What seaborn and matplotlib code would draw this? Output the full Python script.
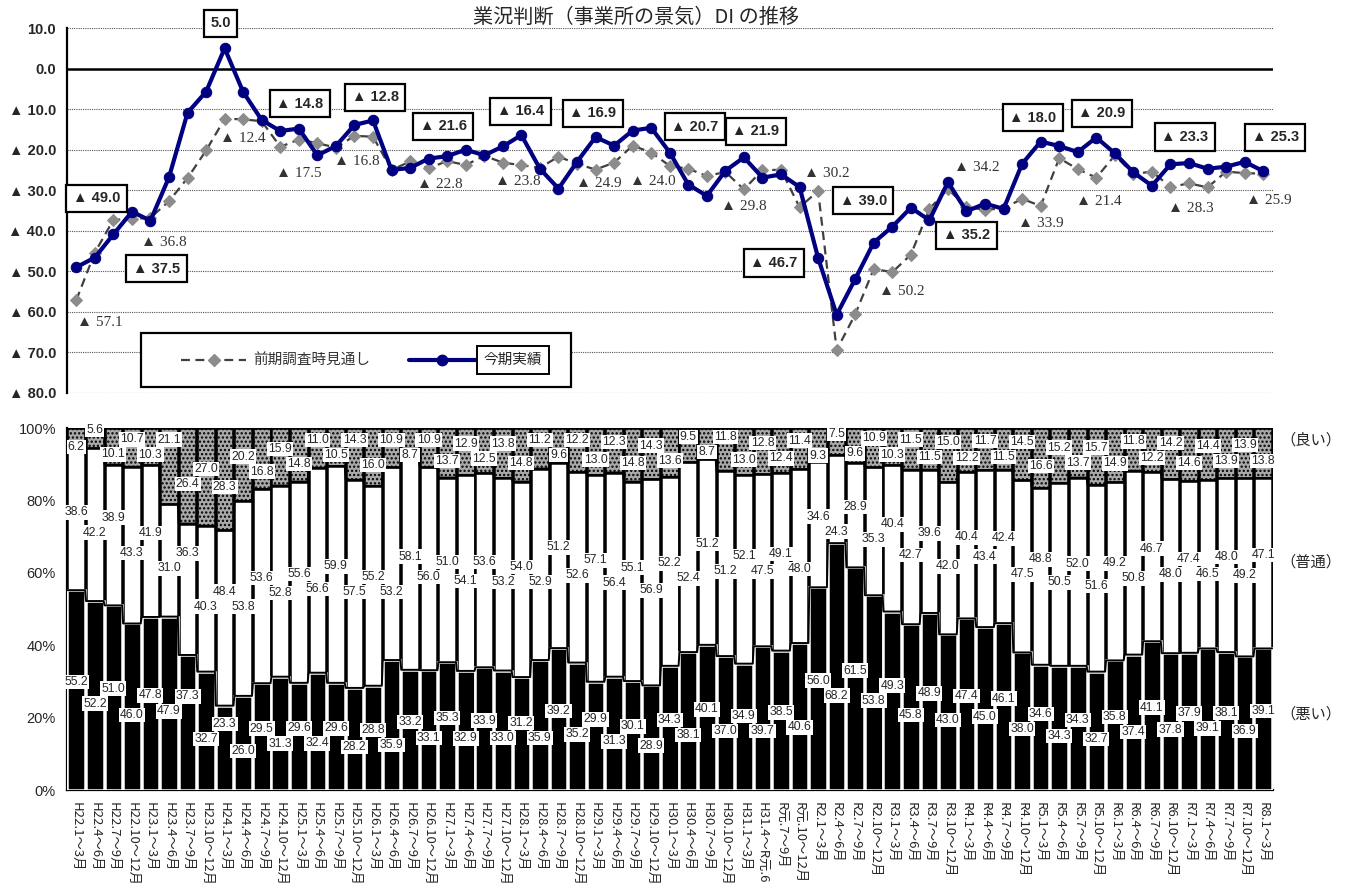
import matplotlib
matplotlib.use("Agg")
import matplotlib.pyplot as plt
import numpy as np
import pandas as pd
import seaborn as sns
from matplotlib.patches import Rectangle
from matplotlib.lines import Line2D

# ---- data -------------------------------------------------------------
periods = [
    "H22.1～3月", "H22.4～6月", "H22.7～9月", "H22.10～12月",
    "H23.1～3月", "H23.4～6月", "H23.7～9月", "H23.10～12月",
    "H24.1～3月", "H24.4～6月", "H24.7～9月", "H24.10～12月",
    "H25.1～3月", "H25.4～6月", "H25.7～9月", "H25.10～12月",
    "H26.1～3月", "H26.4～6月", "H26.7～9月", "H26.10～12月",
    "H27.1～3月", "H27.4～6月", "H27.7～9月", "H27.10～12月",
    "H28.1～3月", "H28.4～6月", "H28.7～9月", "H28.10～12月",
    "H29.1～3月", "H29.4～6月", "H29.7～9月", "H29.10～12月",
    "H30.1～3月", "H30.4～6月", "H30.7～9月", "H30.10～12月",
    "H31.1～3月", "H31.4～R元.6", "R元.7～9月", "R元.10～12月",
    "R2.1～3月", "R2.4～6月", "R2.7～9月", "R2.10～12月",
    "R3.1～3月", "R3.4～6月", "R3.7～9月", "R3.10～12月",
    "R4.1～3月", "R4.4～6月", "R4.7～9月", "R4.10～12月",
    "R5.1～3月", "R5.4～6月", "R5.7～9月", "R5.10～12月",
    "R6.1～3月", "R6.4～6月", "R6.7～9月", "R6.10～12月",
    "R7.1～3月", "R7.4～6月", "R7.7～9月", "R7.10～12月",
    "R8.1～3月",
]

# 今期実績 DI
actual_di = [
    -49.0, -46.6, -40.9, -35.3, -37.5, -26.8, -10.9, -5.7, 5.0, -5.8,
    -12.7, -15.4, -14.8, -21.4, -19.1, -13.9, -12.8, -25.0, -24.5, -22.2,
    -21.6, -20.0, -21.4, -19.2, -16.4, -24.7, -29.6, -23.0, -16.9, -19.0,
    -15.3, -14.6, -20.7, -28.6, -31.4, -25.2, -21.9, -26.9, -26.1, -29.2,
    -46.7, -60.7, -51.9, -42.9, -39.0, -34.3, -37.4, -28.0, -35.2, -33.3,
    -34.6, -23.5, -18.0, -19.1, -20.6, -17.0, -20.9, -25.6, -28.9, -23.6,
    -23.3, -24.7, -24.2, -23.0, -25.3,
]

# 前期調査時見通し DI
forecast_di = [
    -57.1, -45.4, -37.3, -37.1, -36.8, -32.7, -27.0, -20.2, -12.4, -12.5,
    -13.0, -19.3, -17.5, -18.4, -19.5, -16.6, -16.8, -25.0, -22.9, -24.6,
    -22.8, -23.8, -21.5, -23.2, -23.8, -24.5, -21.7, -23.5, -24.9, -23.2,
    -19.0, -20.7, -24.0, -24.7, -26.5, -25.5, -29.8, -25.0, -25.0, -34.2,
    -30.2, -69.4, -60.6, -49.4, -50.2, -45.9, -34.6, -29.7, -34.2, -34.8,
    -34.5, -32.1, -33.9, -22.1, -24.8, -26.9, -21.4, -26.0, -25.4, -29.2,
    -28.3, -29.3, -25.4, -25.8, -25.9,
]

# 構成比（％）
bad = [
    55.2, 52.2, 51.0, 46.0, 47.8, 47.9, 37.3, 32.7, 23.3, 26.0,
    29.5, 31.3, 29.6, 32.4, 29.6, 28.2, 28.8, 35.9, 33.2, 33.1,
    35.3, 32.9, 33.9, 33.0, 31.2, 35.9, 39.2, 35.2, 29.9, 31.3,
    30.1, 28.9, 34.3, 38.1, 40.1, 37.0, 34.9, 39.7, 38.5, 40.6,
    56.0, 68.2, 61.5, 53.8, 49.3, 45.8, 48.9, 43.0, 47.4, 45.0,
    46.1, 38.0, 34.6, 34.3, 34.3, 32.7, 35.8, 37.4, 41.1, 37.8,
    37.9, 39.1, 38.1, 36.9, 39.1,
]
normal = [
    38.6, 42.2, 38.9, 43.3, 41.9, 31.0, 36.3, 40.3, 48.4, 53.8,
    53.6, 52.8, 55.6, 56.6, 59.9, 57.5, 55.2, 53.2, 58.1, 56.0,
    51.0, 54.1, 53.6, 53.2, 54.0, 52.9, 51.2, 52.6, 57.1, 56.4,
    55.1, 56.9, 52.2, 52.4, 51.2, 51.2, 52.1, 47.5, 49.1, 48.0,
    34.6, 24.3, 28.9, 35.3, 40.4, 42.7, 39.6, 42.0, 40.4, 43.4,
    42.4, 47.5, 48.8, 50.5, 52.0, 51.6, 49.2, 50.8, 46.7, 48.0,
    47.4, 46.5, 48.0, 49.2, 47.1,
]
good = [
    6.2, 5.6, 10.1, 10.7, 10.3, 21.1, 26.4, 27.0, 28.3, 20.2,
    16.8, 15.9, 14.8, 11.0, 10.5, 14.3, 16.0, 10.9, 8.7, 10.9,
    13.7, 12.9, 12.5, 13.8, 14.8, 11.2, 9.6, 12.2, 13.0, 12.3,
    14.8, 14.3, 13.6, 9.5, 8.7, 11.8, 13.0, 12.8, 12.4, 11.4,
    9.3, 7.5, 9.6, 10.9, 10.3, 11.5, 11.5, 15.0, 12.2, 11.7,
    11.5, 14.5, 16.6, 15.2, 13.7, 15.7, 14.9, 11.8, 12.2, 14.2,
    14.6, 14.4, 13.9, 13.9, 13.8,
]

# every fourth period (1～3月) carries a value label
label_step = 4
# label placement (pixel offsets from the point) for the 今期実績 boxes
actual_label_offsets = [
    (20, 69), (6, -48), (-4, 25), (1, 25), (2, 23), (-4, 30), (-1, 24),
    (-3, 24), (25, 26), (12, 26), (-44, -5), (-29, 26), (0, -24),
    (-8, 24), (-13, 40), (-4, 26), (12, 34),
]
# and for the 前期調査時見通し labels
forecast_label_offsets = [
    (24, -22), (13, -25), (18, -20), (0, -34), (-16, -25), (-7, -23),
    (-4, -16), (3, -14), (-17, -16), (0, -17), (9, 18), (10, -19),
    (10, 40), (0, -17), (-16, -46), (2, -25), (6, -27),
]

# ---- style -------------------------------------------------------------
sns.set_theme(style="white")
plt.rcParams["font.family"] = ["Noto Sans CJK JP", "DejaVu Sans"]
plt.rcParams["hatch.linewidth"] = 1.1
NUM_FONT = ["Liberation Sans", "Noto Sans CJK JP", "DejaVu Sans"]
SERIF_FONT = ["Liberation Serif", "DejaVu Serif"]
NAVY = "#000080"

W, H = 1346, 891
fig = plt.figure(figsize=(W / 100, H / 100), dpi=100)
fig.patch.set_facecolor("white")


def fx(px):
    return px / W


def fy(py):
    return 1 - py / H


ax1 = fig.add_axes([fx(67), fy(393), fx(1272.5) - fx(67), fy(28) - fy(393)])
ax2 = fig.add_axes([fx(67), fy(790), fx(1272.5) - fx(67), fy(428) - fy(790)])

n = len(periods)
df = pd.DataFrame({
    "pos": np.arange(n),
    "period": periods,
    "actual": actual_di,
    "forecast": forecast_di,
    "bad": bad,
    "normal": normal,
    "good": good,
})
df["cum_bad"] = df["bad"]
df["cum_normal"] = df["bad"] + df["normal"]
df["cum_good"] = df["cum_normal"] + df["good"]


def tri(v):
    return f"▲ {abs(v):.1f}" if v < 0 else f"{v:.1f}"


# ---- upper panel: DI lines ---------------------------------------------
for yv in range(10, -90, -10):
    if yv == 0:
        ax1.axhline(0, color="black", lw=1.8, zorder=1)
    else:
        ax1.axhline(yv, color="#555555", lw=0.8, ls=(0, (1, 1)), zorder=1)

sns.lineplot(data=df, x="pos", y="forecast", ax=ax1, color="#404040",
             linewidth=1.6, linestyle=(0, (4, 2.5)), marker="D", markersize=6,
             markerfacecolor="#8c8c8c", markeredgecolor="#8c8c8c", zorder=3)
sns.lineplot(data=df, x="pos", y="actual", ax=ax1, color=NAVY,
             linewidth=3.0, marker="o", markersize=7.5,
             markerfacecolor=NAVY, markeredgecolor=NAVY, zorder=4)

ax1.set_xlim(-0.5, n - 0.5)
ax1.set_ylim(-80, 10)
yt = list(range(10, -90, -10))
ax1.set_yticks(yt)
ax1.set_yticklabels([tri(v) for v in yt], fontfamily=NUM_FONT,
                    fontsize=10.5, fontweight="bold")
ax1.set_xticks([])
ax1.set_xlabel("")
ax1.set_ylabel("")
for s in ("top", "right", "bottom"):
    ax1.spines[s].set_visible(False)
ax1.spines["left"].set_color("black")
ax1.spines["left"].set_linewidth(1.6)
ax1.tick_params(axis="y", length=4, width=1.2, color="black", pad=4,
                direction="out")

for k, i in enumerate(range(0, n, label_step)):
    dx, dy = actual_label_offsets[k]
    ax1.annotate(tri(actual_di[i]), (i, actual_di[i]), xytext=(dx, dy),
                 textcoords="offset pixels", ha="center", va="center",
                 fontsize=10.5, fontweight="bold", fontfamily=NUM_FONT,
                 zorder=6,
                 bbox=dict(boxstyle="square,pad=0.45", fc="white",
                           ec="black", lw=1.6))
    dx, dy = forecast_label_offsets[k]
    ax1.annotate(tri(forecast_di[i]), (i, forecast_di[i]), xytext=(dx, dy),
                 textcoords="offset pixels", ha="center", va="center",
                 fontsize=11, fontfamily=SERIF_FONT, color="#333333",
                 zorder=5)

# legend frame
fig.add_artist(Rectangle((fx(141), fy(387)), fx(571) - fx(141),
                         fy(333) - fy(387), transform=fig.transFigure,
                         fc="white", ec="black", lw=1.6, zorder=5))
fig.add_artist(Line2D([fx(181), fx(246)], [fy(360), fy(360)],
                      transform=fig.transFigure, color="#404040", lw=1.6,
                      ls=(0, (4, 2.5)), zorder=6))
fig.add_artist(Line2D([fx(213.5)], [fy(360)], transform=fig.transFigure,
                      marker="D", ms=6, mfc="#8c8c8c", mec="#8c8c8c",
                      zorder=7))
fig.text(fx(253), fy(360), "前期調査時見通し", ha="left", va="center",
         fontsize=10.5, color="#333333", zorder=7)
fig.add_artist(Line2D([fx(409), fx(476)], [fy(360), fy(360)],
                      transform=fig.transFigure, color=NAVY, lw=3.0,
                      zorder=6))
fig.add_artist(Line2D([fx(442)], [fy(360)], transform=fig.transFigure,
                      marker="o", ms=7.5, mfc=NAVY, mec=NAVY, zorder=7))
fig.text(fx(513), fy(360), "今期実績", ha="center", va="center",
         fontsize=10.5, zorder=8,
         bbox=dict(boxstyle="square,pad=0.45", fc="white", ec="black",
                   lw=1.4))

fig.text(fx(636), fy(17), "業況判断（事業所の景気）DI の推移", ha="center",
         va="center", fontsize=14.5)

# ---- lower panel: stacked composition bars -----------------------------
bar_w = 0.95
sns.barplot(data=df, x="period", y="cum_good", ax=ax2, color="#a9a9a9",
            saturation=1, width=bar_w, edgecolor="black", linewidth=1.8,
            hatch="....", errorbar=None, zorder=2)
sns.barplot(data=df, x="period", y="cum_normal", ax=ax2, color="white",
            saturation=1, width=bar_w, edgecolor="black", linewidth=1.8,
            errorbar=None, zorder=3)
sns.barplot(data=df, x="period", y="cum_bad", ax=ax2, color="black",
            saturation=1, width=bar_w, edgecolor="white", linewidth=1.8,
            errorbar=None, zorder=4)

# series lines joining the segment boundaries of neighbouring bars
half = bar_w / 2
for col in ("cum_bad", "cum_normal"):
    xs, ys = [], []
    for i, v in enumerate(df[col]):
        xs += [i - half, i + half]
        ys += [v, v]
    ax2.plot(xs, ys, color="black", lw=1.4, zorder=5)

ax2.set_xlim(-0.5, n - 0.5)
ax2.set_ylim(0, 100)

# staggered value labels: alternate rows, keep neighbours apart vertically
PX_PER_PCT = (790 - 428) / 100.0
MIN_GAP = 15.0
STAGGER = 8.0


def stagger_offsets(centers, first_up):
    offs = []
    prev = None
    for i, c in enumerate(centers):
        c_px = c * PX_PER_PCT
        up = (i % 2 == 0) == first_up
        want = c_px + (STAGGER if up else -STAGGER)
        if prev is not None and abs(want - prev) < MIN_GAP:
            want = prev + (MIN_GAP if up else -MIN_GAP)
        offs.append(want - c_px)
        prev = want
    return offs


bad_c = [b / 2 for b in bad]
norm_c = [b + m / 2 for b, m in zip(bad, normal)]
good_c = [b + m + g / 2 for b, m, g in zip(bad, normal, good)]

label_kw = dict(ha="center", va="center", fontsize=8.8, fontfamily=NUM_FONT,
                zorder=7, bbox=dict(boxstyle="square,pad=0.1", fc="white",
                                    ec="none"))
for vals, centers, first_up in ((bad, bad_c, True), (normal, norm_c, True),
                                (good, good_c, False)):
    offs = stagger_offsets(centers, first_up)
    for i, (v, c, o) in enumerate(zip(vals, centers, offs)):
        ax2.annotate(f"{v:.1f}", (i, c), xytext=(0, o),
                     textcoords="offset pixels", **label_kw)

ax2.set_yticks(range(0, 101, 20))
ax2.set_yticklabels([f"{v}%" for v in range(0, 101, 20)],
                    fontfamily=NUM_FONT, fontsize=10.5)
ax2.set_xticks(range(n))
ax2.set_xticklabels(periods, rotation=-90, ha="center", va="top",
                    fontsize=9.5)
ax2.set_xlabel("")
ax2.set_ylabel("")
ax2.tick_params(axis="x", length=0, pad=9)
ax2.tick_params(axis="y", length=4, width=1.2, color="black", pad=4,
                direction="out")
for s in ("top", "right"):
    ax2.spines[s].set_visible(False)
for s in ("left", "bottom"):
    ax2.spines[s].set_color("black")
    ax2.spines[s].set_linewidth(1.6)

for txt, py in (("（良い）", 440), ("（普通）", 562), ("（悪い）", 714)):
    fig.text(fx(1280), fy(py), txt, ha="left", va="center", fontsize=11)

fig.savefig("out.png", dpi=100, facecolor="white")
